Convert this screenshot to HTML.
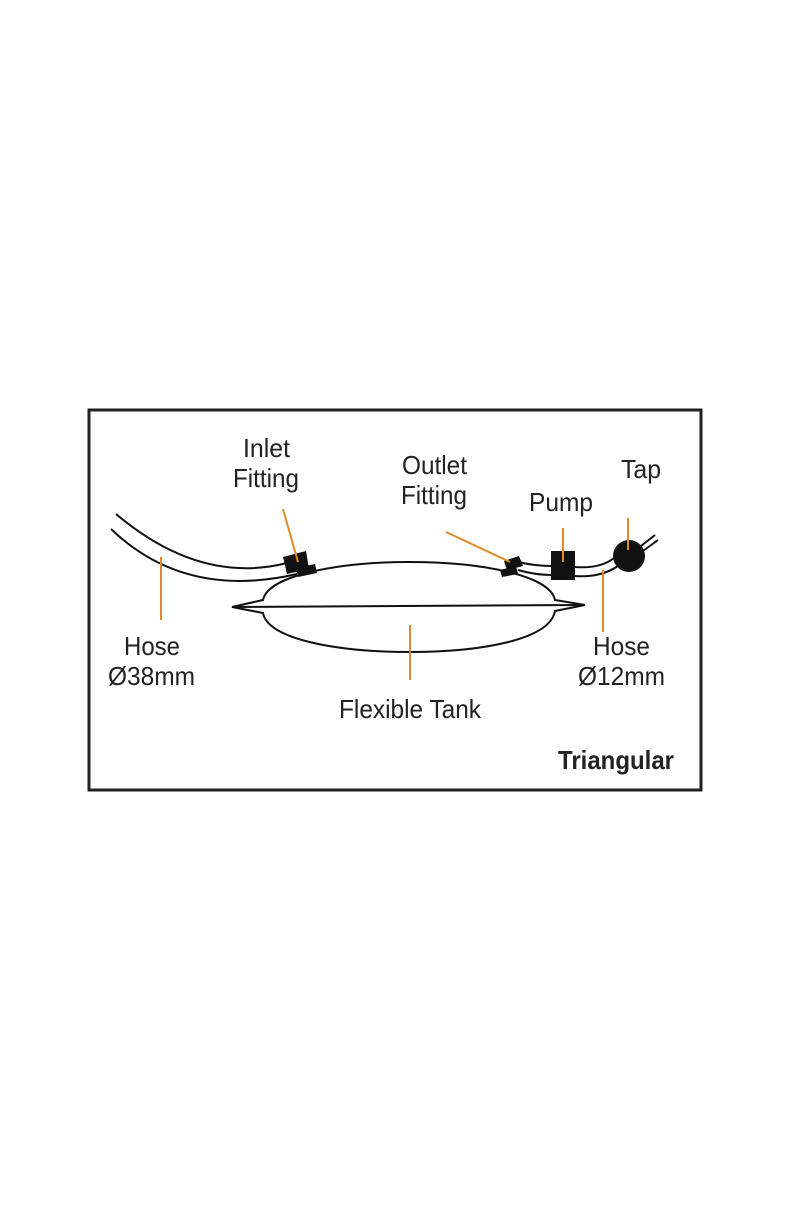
<!DOCTYPE html>
<html><head><style>body{margin:0;background:#fff}</style></head><body>
<svg width="800" height="1200" xmlns="http://www.w3.org/2000/svg" font-family="Liberation Sans, sans-serif">
<rect x="89" y="410" width="612" height="380" fill="none" stroke="#222" stroke-width="3"/>
<g fill="none" stroke="#111" stroke-width="2">
<path d="M116,514 Q200,585 287,563"/>
<path d="M111,529 Q185,600 297,574"/>
<path d="M232,607 L263,600 C268,575 340,562 410,562 C480,562 550,575 555,600 L585,605 L555,611 C550,640 480,652 410,652 C340,652 268,640 263,613 Z"/>
<path d="M232,607 L585,605"/>
<path d="M518,562 Q535,566 552,566 M518,570 Q535,575 552,575"/>
<path d="M575,567 Q600,569 614,558 M575,576 Q600,578 618,566"/>
<path d="M641,546 L655,535 M643,551 L658,540"/>
</g>
<g fill="#111">
<polygon points="283,557 306,551 309,569 287,574"/>
<polygon points="296,568 315,564 317,573 298,577"/>
<polygon points="504,561 519,556 523,566 507,570"/>
<polygon points="500,570 516,566 518,574 502,577"/>
<rect x="551" y="551" width="24" height="29"/>
<circle cx="629" cy="556" r="16"/>
</g>
<g stroke="#e08a2a" stroke-width="2">
<line x1="283" y1="509" x2="298" y2="562"/>
<line x1="161" y1="557" x2="161" y2="620"/>
<line x1="446" y1="532" x2="510" y2="562"/>
<line x1="563" y1="528" x2="563" y2="562"/>
<line x1="628" y1="518" x2="628" y2="550"/>
<line x1="603" y1="570" x2="603" y2="632"/>
<line x1="410" y1="625" x2="410" y2="680"/>
</g>
<g font-size="26" fill="#222" text-anchor="start">
<text x="243" y="457" textLength="47" lengthAdjust="spacingAndGlyphs">Inlet</text>
<text x="233" y="487" textLength="66" lengthAdjust="spacingAndGlyphs">Fitting</text>
<text x="402" y="474" textLength="65" lengthAdjust="spacingAndGlyphs">Outlet</text>
<text x="401" y="504" textLength="66" lengthAdjust="spacingAndGlyphs">Fitting</text>
<text x="529" y="511" textLength="64" lengthAdjust="spacingAndGlyphs">Pump</text>
<text x="621" y="478" textLength="40" lengthAdjust="spacingAndGlyphs">Tap</text>
<text x="124" y="655" textLength="56" lengthAdjust="spacingAndGlyphs">Hose</text>
<text x="108" y="685" textLength="87" lengthAdjust="spacingAndGlyphs">Ø38mm</text>
<text x="593" y="655" textLength="57" lengthAdjust="spacingAndGlyphs">Hose</text>
<text x="578" y="685" textLength="87" lengthAdjust="spacingAndGlyphs">Ø12mm</text>
<text x="339" y="718" textLength="142" lengthAdjust="spacingAndGlyphs">Flexible Tank</text>
<text x="558" y="769" font-weight="bold" textLength="116" lengthAdjust="spacingAndGlyphs">Triangular</text>
</g>
</svg>
</body></html>
